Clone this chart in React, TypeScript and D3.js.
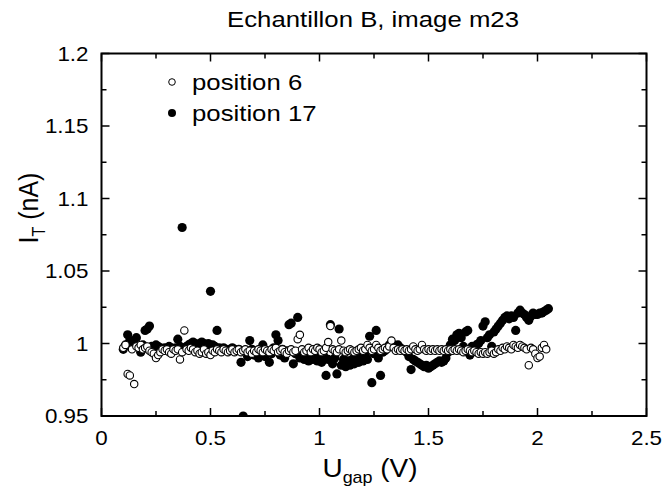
import React from "react";
import * as d3 from "d3";

const title = "Echantillon B, image m23";
const xLabel = "U";
const xLabelSub = "gap";
const xLabelUnit = " (V)";
const yLabel = "I";
const yLabelSub = "T";
const yLabelUnit = " (nA)";
const legendLabels = ["position 6", "position 17"];

const xTicks = [0, 0.5, 1, 1.5, 2, 2.5];
const xTickLabels = ["0", "0.5", "1", "1.5", "2", "2.5"];
const xMinorTicks = [0.25, 0.75, 1.25, 1.75, 2.25];
const yTicks = [0.95, 1.0, 1.05, 1.1, 1.15, 1.2];
const yTickLabels = ["0.95", "1", "1.05", "1.1", "1.15", "1.2"];
const yMinorTicks = [0.975, 1.025, 1.075, 1.125, 1.175];

// position 6 (open circles)
const pos6X = [
  0.10, 0.11, 0.12, 0.13, 0.14, 0.15, 0.16, 0.17, 0.18, 0.19,
  0.20, 0.21, 0.22, 0.23, 0.24, 0.25, 0.26, 0.27, 0.28, 0.29,
  0.30, 0.31, 0.32, 0.33, 0.34, 0.35, 0.36, 0.37, 0.38, 0.39,
  0.40, 0.41, 0.42, 0.43, 0.44, 0.45, 0.46, 0.47, 0.48, 0.49,
  0.50, 0.51, 0.52, 0.53, 0.54, 0.55, 0.56, 0.57, 0.58, 0.59,
  0.60, 0.61, 0.62, 0.63, 0.64, 0.65, 0.66, 0.67, 0.68, 0.69,
  0.70, 0.71, 0.72, 0.73, 0.74, 0.75, 0.76, 0.77, 0.78, 0.79,
  0.80, 0.81, 0.82, 0.83, 0.84, 0.85, 0.86, 0.87, 0.88, 0.89,
  0.90, 0.91, 0.92, 0.93, 0.94, 0.95, 0.96, 0.97, 0.98, 0.99,
  1.00, 1.01, 1.02, 1.03, 1.04, 1.05, 1.06, 1.07, 1.08, 1.09,
  1.10, 1.11, 1.12, 1.13, 1.14, 1.15, 1.16, 1.17, 1.18, 1.19,
  1.20, 1.21, 1.22, 1.23, 1.24, 1.25, 1.26, 1.27, 1.28, 1.29,
  1.30, 1.31, 1.32, 1.33, 1.34, 1.35, 1.36, 1.37, 1.38, 1.39,
  1.40, 1.41, 1.42, 1.43, 1.44, 1.45, 1.46, 1.47, 1.48, 1.49,
  1.50, 1.51, 1.52, 1.53, 1.54, 1.55, 1.56, 1.57, 1.58, 1.59,
  1.60, 1.61, 1.62, 1.63, 1.64, 1.65, 1.66, 1.67, 1.68, 1.69,
  1.70, 1.71, 1.72, 1.73, 1.74, 1.75, 1.76, 1.77, 1.78, 1.79,
  1.80, 1.81, 1.82, 1.83, 1.84, 1.85, 1.86, 1.87, 1.88, 1.89,
  1.90, 1.91, 1.92, 1.93, 1.94, 1.95, 1.96, 1.97, 1.98, 1.99,
  2.00, 2.01, 2.02, 2.03, 2.04,
];
const pos6Y = [
  0.997, 0.999, 0.979, 0.978, 0.996, 0.972, 0.998, 0.997, 0.999, 0.996,
  0.997, 0.998, 0.995, 0.994, 0.993, 0.990, 0.992, 0.994, 0.996, 0.995,
  0.996, 0.994, 0.993, 0.996, 0.995, 0.996, 0.989, 0.994, 1.009, 0.996,
  0.995, 0.997, 0.996, 0.994, 0.995, 0.993, 0.994, 0.996, 0.993, 0.994,
  0.992, 0.995, 0.994, 0.996, 0.995, 0.994, 0.996, 0.995, 0.994, 0.995,
  0.996, 0.994, 0.995, 0.996, 0.994, 0.995, 0.996, 0.994, 0.995, 0.993,
  0.995, 0.994, 0.996, 0.995, 0.994, 0.996, 0.995, 0.994, 0.996, 0.995,
  0.997, 0.994, 0.995, 0.996, 0.994, 0.993, 0.995, 0.996, 0.994, 0.995,
  1.003, 1.006, 0.996, 0.994, 0.995, 0.997, 0.994, 0.996, 0.995, 0.997,
  0.996, 0.994, 0.995, 0.997, 1.001, 1.012, 0.996, 0.995, 0.994, 0.996,
  1.002, 0.995, 0.994, 0.995, 0.996, 0.995, 0.994, 0.995, 0.996, 0.997,
  0.995, 0.996, 0.999, 0.997, 0.995, 0.996, 0.999, 0.997, 0.995, 0.996,
  0.997, 0.996, 0.998, 1.002, 0.997, 0.995, 0.996, 0.995, 0.996, 0.995,
  0.996, 0.995, 0.996, 0.998, 0.996, 0.995, 0.996, 0.999, 0.996, 0.995,
  0.996, 0.995, 0.996, 0.995, 0.996, 0.995, 0.996, 0.995, 0.996, 0.995,
  0.996, 0.995, 0.996, 0.995, 0.996, 0.995, 0.994, 0.995, 0.996, 0.995,
  0.994, 0.995, 0.994, 0.993, 0.994, 0.993, 0.994, 0.993, 0.994, 0.995,
  0.993, 0.994, 0.996, 0.995, 0.997, 0.996, 0.998, 0.997, 0.996, 0.999,
  0.998, 0.997, 0.999, 0.998, 0.997, 0.996, 0.985, 0.997, 0.996, 0.993,
  0.990, 0.991, 0.997, 0.999, 0.996,
];

// position 17 (filled circles)
const pos17X = [
  0.10, 0.11, 0.12, 0.13, 0.14, 0.15, 0.16, 0.17, 0.18, 0.19,
  0.20, 0.21, 0.22, 0.23, 0.24, 0.25, 0.26, 0.27, 0.28, 0.29,
  0.30, 0.31, 0.32, 0.33, 0.34, 0.35, 0.36, 0.37, 0.38, 0.39,
  0.40, 0.41, 0.42, 0.43, 0.44, 0.45, 0.46, 0.47, 0.48, 0.49,
  0.50, 0.51, 0.52, 0.53, 0.54, 0.55, 0.56, 0.57, 0.58, 0.59,
  0.60, 0.61, 0.62, 0.63, 0.64, 0.65, 0.66, 0.67, 0.68, 0.69,
  0.70, 0.71, 0.72, 0.73, 0.74, 0.75, 0.76, 0.77, 0.78, 0.79,
  0.80, 0.81, 0.82, 0.83, 0.84, 0.85, 0.86, 0.87, 0.88, 0.89,
  0.90, 0.91, 0.92, 0.93, 0.94, 0.95, 0.96, 0.97, 0.98, 0.99,
  1.00, 1.01, 1.02, 1.03, 1.04, 1.05, 1.06, 1.07, 1.08, 1.09,
  1.10, 1.11, 1.12, 1.13, 1.14, 1.15, 1.16, 1.17, 1.18, 1.19,
  1.20, 1.21, 1.22, 1.23, 1.24, 1.25, 1.26, 1.27, 1.28, 1.29,
  1.30, 1.31, 1.32, 1.33, 1.34, 1.35, 1.36, 1.37, 1.38, 1.39,
  1.40, 1.41, 1.42, 1.43, 1.44, 1.45, 1.46, 1.47, 1.48, 1.49,
  1.50, 1.51, 1.52, 1.53, 1.54, 1.55, 1.56, 1.57, 1.58, 1.59,
  1.60, 1.61, 1.62, 1.63, 1.64, 1.65, 1.66, 1.67, 1.68, 1.69,
  1.70, 1.71, 1.72, 1.73, 1.74, 1.75, 1.76, 1.77, 1.78, 1.79,
  1.80, 1.81, 1.82, 1.83, 1.84, 1.85, 1.86, 1.87, 1.88, 1.89,
  1.90, 1.91, 1.92, 1.93, 1.94, 1.95, 1.96, 1.97, 1.98, 1.99,
  2.00, 2.01, 2.02, 2.03, 2.04, 2.05,
];
const pos17Y = [
  0.996, 0.999, 1.006, 1.002, 0.997, 0.999, 1.004, 0.998, 0.994, 0.999,
  1.009, 1.010, 1.012, 0.998, 0.997, 0.999, 0.998, 0.997, 0.996, 0.997,
  0.996, 0.998, 0.997, 0.996, 0.997, 1.003, 0.998, 1.080, 0.997, 0.998,
  0.999, 1.000, 1.001, 1.000, 0.999, 1.000, 1.001, 1.000, 0.999, 1.000,
  1.036, 0.999, 0.998, 1.009, 0.997, 0.996, 0.997, 0.996, 0.995, 0.996,
  0.997, 0.996, 0.995, 0.996, 0.987, 0.950, 0.995, 0.991, 1.002, 0.996,
  0.992, 0.995, 0.990, 0.996, 0.999, 0.991, 0.995, 0.987, 0.993, 0.997,
  1.006, 1.002, 0.992, 0.996, 0.990, 0.995, 1.013, 1.014, 0.986, 0.993,
  1.018, 0.990, 0.994, 0.989, 0.993, 0.988, 0.992, 0.989, 0.994, 0.988,
  0.992, 0.987, 0.991, 0.978, 0.989, 1.013, 0.986, 0.990, 0.979, 1.010,
  0.985, 0.989, 0.984, 0.988, 0.985, 0.989, 0.986, 0.990, 0.987, 0.991,
  0.988, 0.992, 0.989, 1.005, 0.973, 0.993, 1.009, 0.990, 0.978, 0.994,
  0.995, 0.997, 0.999, 1.000, 0.999, 0.998, 0.999, 0.997, 0.996, 0.995,
  0.994, 0.991, 0.982, 0.989, 0.988, 0.987, 0.986, 0.985, 0.984, 0.985,
  0.983, 0.984, 0.985, 0.986, 0.987, 0.988, 0.987, 0.988, 0.990, 0.994,
  0.999, 1.003, 1.002, 1.006, 1.007, 1.004, 0.998, 1.008, 1.009, 0.992,
  0.998, 0.996, 0.999, 1.000, 1.002, 1.012, 1.015, 1.004, 1.006, 0.998,
  1.008, 1.010, 1.012, 1.014, 1.016, 1.018, 1.019, 1.017, 1.019, 1.018,
  1.009, 1.021, 1.023, 1.021, 1.020, 1.018, 1.016, 1.019, 1.021, 1.020,
  1.020, 1.021, 1.021, 1.022, 1.023, 1.024,
];

const W = 666;
const H = 491;
const M = { left: 101.5, right: 646.5, top: 53.5, bottom: 416 };
const SX = 1.12; // horizontal text stretch
const FONT = "'Liberation Sans', Arial, sans-serif";

const x = d3.scaleLinear().domain([0, 2.5]).range([M.left, M.right]);
const y = d3.scaleLinear().domain([0.95, 1.2]).range([M.bottom, M.top]);

function SText({ tx, ty, size, anchor = "start", rotate = 0, children }: any) {
  return (
    <text
      transform={`translate(${tx},${ty}) scale(${SX},1)${rotate ? ` rotate(${rotate})` : ""}`}
      fontSize={size}
      textAnchor={anchor}
      fontFamily={FONT}
      fill="#000"
    >
      {children}
    </text>
  );
}

export default function App() {
  const filled = pos17X.map((v, i) => ({ x: v, y: pos17Y[i] }));
  const open = pos6X.map((v, i) => ({ x: v, y: pos6Y[i] }));
  const majT = 8;
  const minT = 5;
  return (
    <svg width={W} height={H} style={{ display: "block", position: "absolute", left: 0, top: 0 }}>
      <rect width={W} height={H} fill="#fff" />
      <defs>
        <clipPath id="plotclip">
          <rect x={M.left} y={M.top} width={M.right - M.left} height={M.bottom - M.top} />
        </clipPath>
      </defs>
      <g clipPath="url(#plotclip)">
        {filled.map((d, i) => (
          <circle key={"f" + i} cx={x(d.x)} cy={y(d.y)} r={4.6} fill="#000" />
        ))}
        {open.map((d, i) => (
          <circle key={"o" + i} cx={x(d.x)} cy={y(d.y)} r={3.7} fill="#fff" stroke="#000" strokeWidth={1.1} />
        ))}
      </g>
      {/* frame */}
      <rect x={M.left} y={M.top} width={M.right - M.left} height={M.bottom - M.top} fill="none" stroke="#000" strokeWidth={2} />
      {/* x ticks */}
      {xTicks.map((t) => (
        <g key={"xt" + t}>
          <line x1={x(t)} x2={x(t)} y1={M.bottom} y2={M.bottom - majT} stroke="#000" strokeWidth={1.5} />
          <line x1={x(t)} x2={x(t)} y1={M.top} y2={M.top + majT} stroke="#000" strokeWidth={1.5} />
        </g>
      ))}
      {xMinorTicks.map((t) => (
        <g key={"xm" + t}>
          <line x1={x(t)} x2={x(t)} y1={M.bottom} y2={M.bottom - minT} stroke="#000" strokeWidth={1.5} />
          <line x1={x(t)} x2={x(t)} y1={M.top} y2={M.top + minT} stroke="#000" strokeWidth={1.5} />
        </g>
      ))}
      {yTicks.map((t) => (
        <g key={"yt" + t}>
          <line x1={M.left} x2={M.left + majT} y1={y(t)} y2={y(t)} stroke="#000" strokeWidth={1.5} />
          <line x1={M.right} x2={M.right - majT} y1={y(t)} y2={y(t)} stroke="#000" strokeWidth={1.5} />
        </g>
      ))}
      {yMinorTicks.map((t) => (
        <g key={"ym" + t}>
          <line x1={M.left} x2={M.left + minT} y1={y(t)} y2={y(t)} stroke="#000" strokeWidth={1.5} />
          <line x1={M.right} x2={M.right - minT} y1={y(t)} y2={y(t)} stroke="#000" strokeWidth={1.5} />
        </g>
      ))}
      {/* tick labels */}
      {xTicks.map((t, i) => (
        <SText key={"xl" + t} tx={x(t)} ty={M.bottom + 29} size={20} anchor="middle">
          {xTickLabels[i]}
        </SText>
      ))}
      {yTicks.map((t, i) => (
        <SText key={"yl" + t} tx={M.left - 13} ty={y(t) + 7} size={20} anchor="end">
          {yTickLabels[i]}
        </SText>
      ))}
      {/* title */}
      <SText tx={373} ty={27} size={23} anchor="middle">{title}</SText>
      {/* x label */}
      <SText tx={370} ty={477} size={25} anchor="middle">
        {xLabel}
        <tspan fontSize={16} dy={6}>{xLabelSub}</tspan>
        <tspan dy={-6}>{xLabelUnit}</tspan>
      </SText>
      {/* y label */}
      <SText tx={38} ty={208} size={25} anchor="middle" rotate={-90}>
        {yLabel}
        <tspan fontSize={16} dy={6}>{yLabelSub}</tspan>
        <tspan dy={-6}>{yLabelUnit}</tspan>
      </SText>
      {/* legend */}
      <circle cx={172} cy={82} r={3.3} fill="#fff" stroke="#000" strokeWidth={1} />
      <SText tx={192} ty={90} size={23}>{legendLabels[0]}</SText>
      <circle cx={172} cy={113} r={4} fill="#000" />
      <SText tx={192} ty={121} size={23}>{legendLabels[1]}</SText>
    </svg>
  );
}
